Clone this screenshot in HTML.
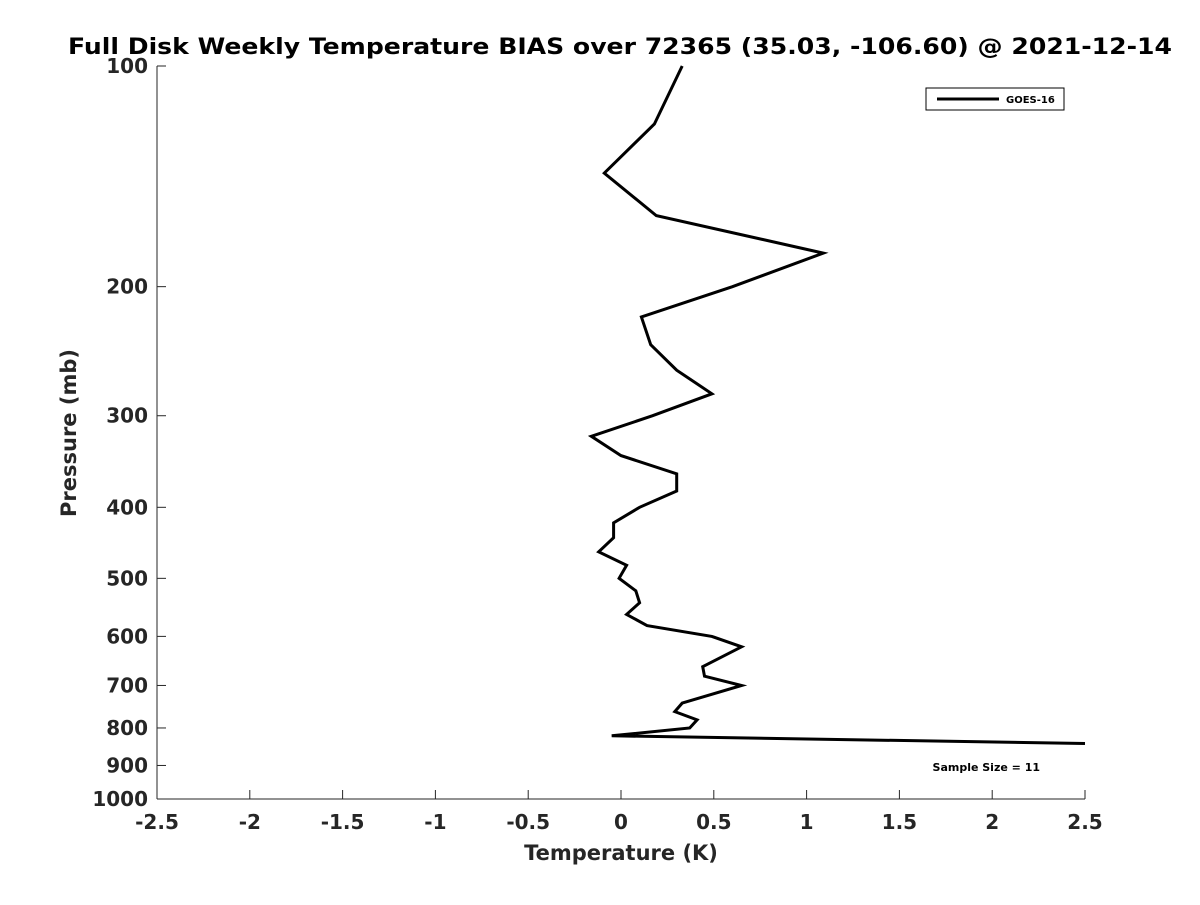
<!DOCTYPE html>
<html><head><meta charset="utf-8"><style>
body{margin:0;background:#fff;}
svg text{font-family:"DejaVu Sans","Liberation Sans",sans-serif;font-weight:bold;fill:#262626;}
</style></head><body>
<svg id="chart" width="1200" height="900" viewBox="0 0 1200 900" xmlns="http://www.w3.org/2000/svg">
<rect width="1200" height="900" fill="#fff"/>
<text x="68" y="54" textLength="1104" lengthAdjust="spacingAndGlyphs" font-size="22" style="fill:#000">Full Disk Weekly Temperature BIAS over 72365 (35.03, -106.60) @ 2021-12-14</text>
<g id="axes"></g>
<text x="621" y="860" text-anchor="middle" font-size="21">Temperature (K)</text>
<text transform="translate(76,433) rotate(-90)" text-anchor="middle" font-size="21">Pressure (mb)</text>
<g>
<rect x="926" y="88" width="138" height="22" fill="#fff" stroke="#000" stroke-width="1"/>
<line x1="937" y1="99" x2="999" y2="99" stroke="#000" stroke-width="3"/>
<text x="1006" y="103" font-size="10" style="fill:#000">GOES-16</text>
</g>
<text x="1040" y="771" text-anchor="end" font-size="11" style="fill:#000">Sample Size = 11</text>
</svg>
<script>
const pressures=[100,120,140,160,180,200,220,240,260,280,300,320,340,360,380,400,420,440,460,480,500,520,540,560,580,600,620,660,680,700,740,760,780,800,820,840];
const biasValues=[0.33,0.18,-0.09,0.19,1.09,0.6,0.11,0.16,0.3,0.49,0.17,-0.16,0,0.3,0.3,0.1,-0.04,-0.04,-0.12,0.03,-0.01,0.08,0.1,0.03,0.14,0.49,0.65,0.44,0.45,0.65,0.33,0.29,0.41,0.37,-0.05,2.5];
const xTicks=[-2.5,-2,-1.5,-1,-0.5,0,0.5,1,1.5,2,2.5];
const yTicks=[100,200,300,400,500,600,700,800,900,1000];
const L=157,R=1085,T=66,B=799;
const xs=v=>L+(v+2.5)/5*(R-L);
const ys=p=>T+Math.log10(p/100)*(B-T);
const NS="http://www.w3.org/2000/svg";
const svg=document.getElementById('chart');
const ax=document.getElementById('axes');
function mk(t,a,parent){const e=document.createElementNS(NS,t);for(const k in a)e.setAttribute(k,a[k]);(parent||ax).appendChild(e);return e;}
const xa=mk('line',{x1:L,y1:B,x2:R,y2:B,stroke:'#262626','stroke-width':1});


const ya=mk('line',{x1:L,y1:T,x2:L,y2:B,stroke:'#262626','stroke-width':1});


xTicks.forEach(v=>{
 const x=xs(v);
 mk('line',{x1:x,y1:B,x2:x,y2:B-9,stroke:'#262626'});
 const t=mk('text',{x:x,y:B+30,'text-anchor':'middle','font-size':20});
 t.textContent=String(v);
 
 
});
yTicks.forEach(p=>{
 const y=ys(p);
 mk('line',{x1:L,y1:y,x2:L+9,y2:y,stroke:'#262626'});
 const t=mk('text',{x:L-9,y:y+7,'text-anchor':'end','font-size':20});
 t.textContent=String(p);
 
 
});
const d=pressures.map((p,i)=>(i?'L':'M')+xs(biasValues[i]).toFixed(1)+','+ys(p).toFixed(1)).join(' ');
const line=mk('path',{d:d,fill:'none',stroke:'#000','stroke-width':3,'stroke-linejoin':'miter'},svg);


</script>
</body></html>
